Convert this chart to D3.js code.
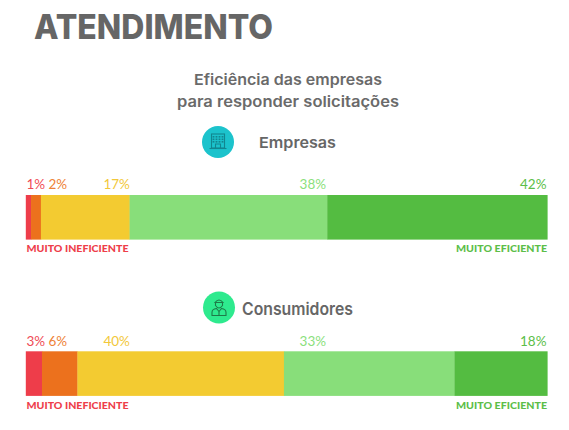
<!DOCTYPE html>
<html>
<head>
<meta charset="utf-8">
<script src="https://cdn.jsdelivr.net/npm/d3@7"></script>
<style>
  html, body { margin: 0; padding: 0; background: #fff; }
  svg { display: block; }
</style>
</head>
<body>
<div id="chart"></div>
<script>
// ---- data ----
const categories = ["Muito ineficiente", "Ineficiente", "Neutro", "Eficiente", "Muito eficiente"];
const groups = ["Empresas", "Consumidores"];
// segment shares as drawn in the picture (%)
const empresas = [1.0, 1.9, 17.0, 37.9, 42.2];
const consumidores = [3.1, 6.8, 39.6, 32.7, 17.8];
// printed value labels
const empresasLabels = ["1%", "2%", "17%", "38%", "42%"];
const consumidoresLabels = ["3%", "6%", "40%", "33%", "18%"];
const title = "ATENDIMENTO";
const subtitle = ["Eficiência das empresas", "para responder solicitações"];
const endLabels = ["MUITO INEFICIENTE", "MUITO EFICIENTE"];

// ---- styling / layout ----
const W = 569, H = 430;
const barColors = ["#EE3D4A", "#EC711D", "#F3CB31", "#88DE7A", "#54BC41"];
const labelColors = ["#EF4B55", "#EE8236", "#F2C83A", "#8BDF7D", "#5CBE48"];
// label anchor positions (fraction of bar track), fixed by the design
const labelAnchor = [
  { pos: 0.002, anchor: "start" },
  { pos: 0.044, anchor: "start" },
  { pos: 0.2, anchor: "end" },
  { pos: 0.576, anchor: "end" },
  { pos: 0.9985, anchor: "end" }
];
const panels = [
  { name: groups[0], values: empresas, labels: empresasLabels, barTop: 195, headY: 142, textY: 147.5, iconX: 218, textX: 259, textW: 77, fs: 15, circle: "#1CC3CC", icon: "#12868F", type: "building" },
  { name: groups[1], values: consumidores, labels: consumidoresLabels, barTop: 351.3, headY: 307.5, textY: 315, iconX: 219, textX: 242, textW: 111, fs: 17, circle: "#2EEA8E", icon: "#1E7A48", type: "person" }
];
const barH = 44.6;

const svg = d3.select("#chart").append("svg")
  .attr("width", W).attr("height", H);

const x = d3.scaleLinear().domain([0, 100]).range([25.8, 547.3]);
const track = d3.scaleLinear().domain([0, 1]).range([25.5, 547.3]);

// title
svg.append("text")
  .attr("x", 34).attr("y", 38.5)
  .attr("font-family", "Inter, 'Open Sans', sans-serif")
  .attr("font-weight", 800)
  .attr("font-size", 34)
  .attr("fill", "#666666")
  .attr("textLength", 239)
  .attr("lengthAdjust", "spacingAndGlyphs")
  .text(title);

// subtitle
const subW = [188, 222];
subtitle.forEach((s, i) => {
  svg.append("text")
    .attr("x", 288).attr("y", 85 + i * 22)
    .attr("text-anchor", "middle")
    .attr("font-family", "Inter, 'Open Sans', sans-serif")
    .attr("font-weight", 600)
    .attr("font-size", 15)
    .attr("fill", "#6a6a6a")
    .attr("textLength", subW[i])
    .attr("lengthAdjust", "spacingAndGlyphs")
    .text(s);
});

function drawIcon(g, p) {
  const c = g.append("g").attr("transform", `translate(${p.iconX},${p.headY})`);
  c.append("circle").attr("r", 16).attr("fill", p.circle);
  if (p.type === "building") {
    const ic = c.append("g").attr("fill", "none").attr("stroke", p.icon).attr("stroke-width", 1.1);
    ic.append("rect").attr("x", -6.5).attr("y", -8).attr("width", 13).attr("height", 14);
    ic.append("line").attr("x1", -8.5).attr("x2", 8.5).attr("y1", 6.5).attr("y2", 6.5);
    const win = c.append("g").attr("fill", p.icon);
    [-4.5, -1.5, 1.5, 4.5].forEach(wx => {
      [-6, -3.5, -1].forEach(wy => {
        win.append("rect").attr("x", wx - 0.9).attr("y", wy).attr("width", 1.8).attr("height", 1.6);
      });
    });
    ic.append("path").attr("d", "M-2.5,6 V2 H2.5 V6");
  } else {
    const ic = c.append("g").attr("fill", "none").attr("stroke", p.icon).attr("stroke-width", 1.1);
    ic.append("path").attr("d", "M-4,-5 Q0,-10 4,-5 Z");
    ic.append("path").attr("d", "M-3.5,-5 V-2 Q0,3 3.5,-2 V-5");
    ic.append("path").attr("d", "M-7,8 V5 Q-7,1.5 -2.5,1 L0,4 L2.5,1 Q7,1.5 7,5 V8 Z");
    ic.append("line").attr("x1", 0).attr("x2", 0).attr("y1", 4).attr("y2", 8);
  }
}

panels.forEach(p => {
  const g = svg.append("g");
  drawIcon(g, p);
  g.append("text")
    .attr("x", p.textX).attr("y", p.textY)
    .attr("font-family", "Inter, 'Open Sans', sans-serif")
    .attr("font-weight", 600)
    .attr("font-size", p.fs)
    .attr("fill", "#666666")
    .attr("textLength", p.textW)
    .attr("lengthAdjust", "spacingAndGlyphs")
    .text(p.name);

  const stack = [];
  let acc = 0;
  p.values.forEach((v, i) => { stack.push({ i, v, label: p.labels[i], x0: acc, x1: acc + v }); acc += v; });

  g.selectAll("rect.seg").data(stack).enter().append("rect")
    .attr("class", "seg")
    .attr("x", d => x(d.x0))
    .attr("y", p.barTop)
    .attr("width", d => x(d.x1) - x(d.x0) + 0.3)
    .attr("height", barH)
    .attr("fill", d => barColors[d.i]);

  g.selectAll("text.val").data(stack).enter().append("text")
    .attr("class", "val")
    .attr("x", d => track(labelAnchor[d.i].pos))
    .attr("y", p.barTop - 5.8)
    .attr("text-anchor", d => labelAnchor[d.i].anchor)
    .attr("font-family", "Lato, sans-serif")
    .attr("font-size", 13.5)
    .attr("fill", d => labelColors[d.i])
    .text(d => d.label);

  g.append("text")
    .attr("x", 26.5).attr("y", p.barTop + barH + 12.8)
    .attr("font-family", "Lato, sans-serif")
    .attr("font-weight", 900)
    .attr("font-size", 10)
    .attr("fill", barColors[0])
    .attr("textLength", 102)
    .attr("lengthAdjust", "spacingAndGlyphs")
    .text(endLabels[0]);
  g.append("text")
    .attr("x", 456).attr("y", p.barTop + barH + 12.8)
    .attr("font-family", "Lato, sans-serif")
    .attr("font-weight", 900)
    .attr("font-size", 10)
    .attr("fill", "#5CBE48")
    .attr("textLength", 91)
    .attr("lengthAdjust", "spacingAndGlyphs")
    .text(endLabels[1]);
});
</script>
</body>
</html>
